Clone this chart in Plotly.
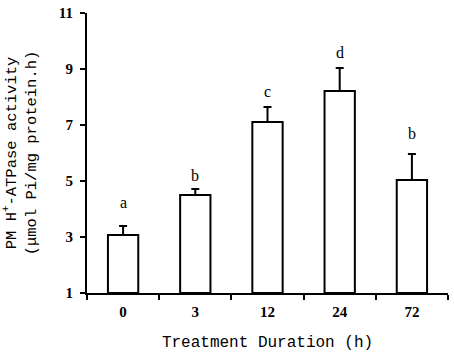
import plotly.graph_objects as go

categories = ["0", "3", "12", "24", "72"]
activity = [3.07, 4.50, 7.11, 8.21, 5.04]
sd = [0.32, 0.21, 0.53, 0.83, 0.92]
letters = ["a", "b", "c", "d", "b"]
letter_y = [4.25, 5.2, 8.18, 9.6, 6.7]
y_ticks = [1, 3, 5, 7, 9, 11]

serif = "Liberation Serif, Times New Roman, serif"
mono = "Liberation Mono, DejaVu Sans Mono, monospace"

fig = go.Figure()
fig.add_trace(go.Bar(
    x=categories, y=[v - 1 for v in activity], base=1,
    width=0.42,
    marker=dict(color="white", line=dict(color="black", width=2)),
    error_y=dict(type="data", array=sd, arrayminus=[0] * len(sd),
                 symmetric=False, color="black", thickness=2, width=4),
    showlegend=False, hoverinfo="skip",
))

for i, (t, yy) in enumerate(zip(letters, letter_y)):
    fig.add_annotation(x=i, y=yy, xref="x", yref="y", text=t, showarrow=False,
                       font=dict(family=serif, size=16, color="black"))

fig.update_layout(
    width=454, height=352,
    margin=dict(l=87, r=6, t=13, b=59),
    paper_bgcolor="white", plot_bgcolor="white",
    xaxis=dict(
        type="category", categoryorder="array", categoryarray=categories,
        range=[-0.5, 4.5], automargin=False,
        tickson="boundaries", ticks="outside", ticklen=5,
        tickwidth=2, tickcolor="black", ticklabelstandoff=4,
        showline=True, linecolor="black", linewidth=2,
        showgrid=False, zeroline=False,
        tickfont=dict(family=serif, size=15, color="black", weight="bold"),
        title=dict(text="Treatment Duration (h)",
                   font=dict(family=mono, size=16, color="black"), standoff=30),
    ),
    yaxis=dict(
        range=[1, 11], tickvals=y_ticks, ticks="outside", ticklen=5,
        tickwidth=2, tickcolor="black", automargin=False, ticklabelstandoff=4,
        showline=True, linecolor="black", linewidth=2,
        showgrid=False, zeroline=False,
        tickfont=dict(family=serif, size=15, color="black", weight="bold"),
        title=dict(text="PM H<sup>+</sup>-ATPase activity<br>(μmol Pi/mg protein.h)",
                   font=dict(family=mono, size=15.5, color="black"), standoff=30),
    ),
)

fig.write_html("out.html", config={"displayModeBar": False},
               post_script="document.body.style.margin='0';document.body.style.overflow='hidden';")
